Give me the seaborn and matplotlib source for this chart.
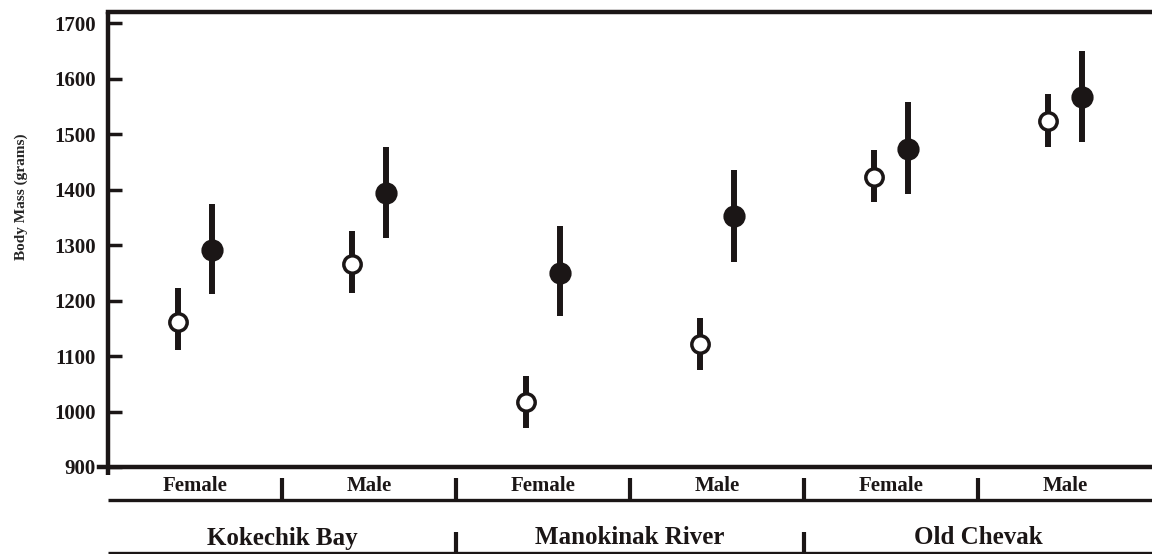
import numpy as np
import pandas as pd
import seaborn as sns
import matplotlib.pyplot as plt
from matplotlib.transforms import blended_transform_factory

# ---- data -------------------------------------------------------------
sites = ["Kokechik Bay", "Manokinak River", "Old Chevak"]
sexes = ["Female", "Male"]
series = ["Series A", "Series B"]          # open circles, filled circles

# mean body mass and interval limits, ordered site x sex
a_mean = [1162, 1266, 1017, 1122, 1422, 1523]
a_low  = [1110, 1213,  971, 1074, 1377, 1476]
a_high = [1222, 1326, 1064, 1169, 1472, 1573]

b_mean = [1291, 1393, 1250, 1352, 1473, 1566]
b_low  = [1212, 1313, 1172, 1270, 1392, 1486]
b_high = [1374, 1477, 1335, 1436, 1557, 1650]

y_ticks = [900, 1000, 1100, 1200, 1300, 1400, 1500, 1600, 1700]

# ---- long-form table: low / mean / high per group ------------------------
groups = [f"{s} | {x}" for s in sites for x in sexes]
rows = []
for name, means, lows, highs in [(series[0], a_mean, a_low, a_high),
                                 (series[1], b_mean, b_low, b_high)]:
    for g, m, lo, hi in zip(groups, means, lows, highs):
        for v in (lo, m, hi):
            rows.append({"group": g, "series": name, "mass": v})
df = pd.DataFrame(rows)

# ---- style ------------------------------------------------------------
sns.set_theme(style="white")
plt.rcParams["font.family"] = ["Liberation Serif", "DejaVu Serif"]
plt.rcParams["font.weight"] = "bold"

ink = "#1b1616"
fig = plt.figure(figsize=(11.52, 5.54), dpi=100)
ax = fig.add_axes([108 / 1152, 1 - 467 / 554, 1 - 108 / 1152, 455 / 554])

sns.pointplot(
    data=df, x="group", y="mass", hue="series",
    order=groups, hue_order=series,
    estimator="median", errorbar=lambda v: (v.min(), v.max()),
    dodge=0.195, linestyle="none", markers="o",
    palette=[ink, ink], markersize=13, markeredgewidth=2.5,
    err_kws={"linewidth": 4.3, "solid_capstyle": "butt"},
    ax=ax, legend=False,
)

# open markers for the first series, markers drawn over the bars
for ln in ax.lines:
    if ln.get_marker() == "o":
        ln.set_zorder(4)
        xd = np.asarray(ln.get_xdata(), dtype=float)
        if len(xd) and np.nanmean(xd - np.arange(len(xd))) < 0:
            ln.set_markerfacecolor("white")
            ln.set_markersize(12.5)
        else:
            ln.set_markerfacecolor(ink)
            ln.set_markersize(13.5)
        ln.set_markeredgecolor(ink)
    else:
        ln.set_zorder(2)
        ln.set_color(ink)

# ---- axes -------------------------------------------------------------
ax.set_xlim(-0.5, 5.5)
ax.set_ylim(900, 1720)
ax.set_yticks(y_ticks)
ax.set_yticklabels([str(t) for t in y_ticks], fontsize=15, fontweight="bold")
ax.set_xticks([])
ax.set_xlabel("")
ax.set_ylabel("Body Mass (grams)", fontsize=11, fontweight="bold")
ax.yaxis.set_label_coords(-0.0766, 0.5945)
ax.tick_params(axis="y", direction="in", length=10, width=2.5,
               color=ink, pad=9, labelcolor=ink, left=True)

for side in ["right"]:
    ax.spines[side].set_visible(False)
for side in ["top", "left", "bottom"]:
    ax.spines[side].set_color(ink)
    ax.spines[side].set_linewidth(3.2)
ax.spines["left"].set_bounds(885, 1720)
ax.spines["bottom"].set_bounds(-0.55, 5.5)
ax.spines["left"].set_capstyle("butt")

# ---- two-level category axis below the plot ----------------------------
tr = blended_transform_factory(ax.transData, ax.transAxes)
h = 455.0


def ay(px):
    return -(px - 467) / h


for i, g in enumerate(groups):
    sex = g.split(" | ")[1]
    ax.text(i, ay(486), sex, transform=tr, ha="center", va="center",
            fontsize=15, fontweight="bold", color=ink)
for k in range(len(groups) - 1):
    ax.plot([k + 0.5, k + 0.5], [ay(478), ay(500)], transform=tr,
            color=ink, lw=3, clip_on=False, solid_capstyle="butt")
ax.plot([-0.5, 5.5], [ay(500), ay(500)], transform=tr, color=ink,
        lw=2.4, clip_on=False, solid_capstyle="butt")

for j, s in enumerate(sites):
    ax.text(2 * j + 0.5, ay(538), s, transform=tr, ha="center",
            va="center", fontsize=18, fontweight="bold", color=ink)
for j in range(1, len(sites)):
    ax.plot([2 * j - 0.5, 2 * j - 0.5], [ay(532), ay(556)], transform=tr,
            color=ink, lw=3, clip_on=False, solid_capstyle="butt")
ax.plot([-0.5, 5.5], [ay(553), ay(553)], transform=tr, color=ink,
        lw=2.4, clip_on=False, solid_capstyle="butt")

fig.savefig("out.png", dpi=100, facecolor="white")
